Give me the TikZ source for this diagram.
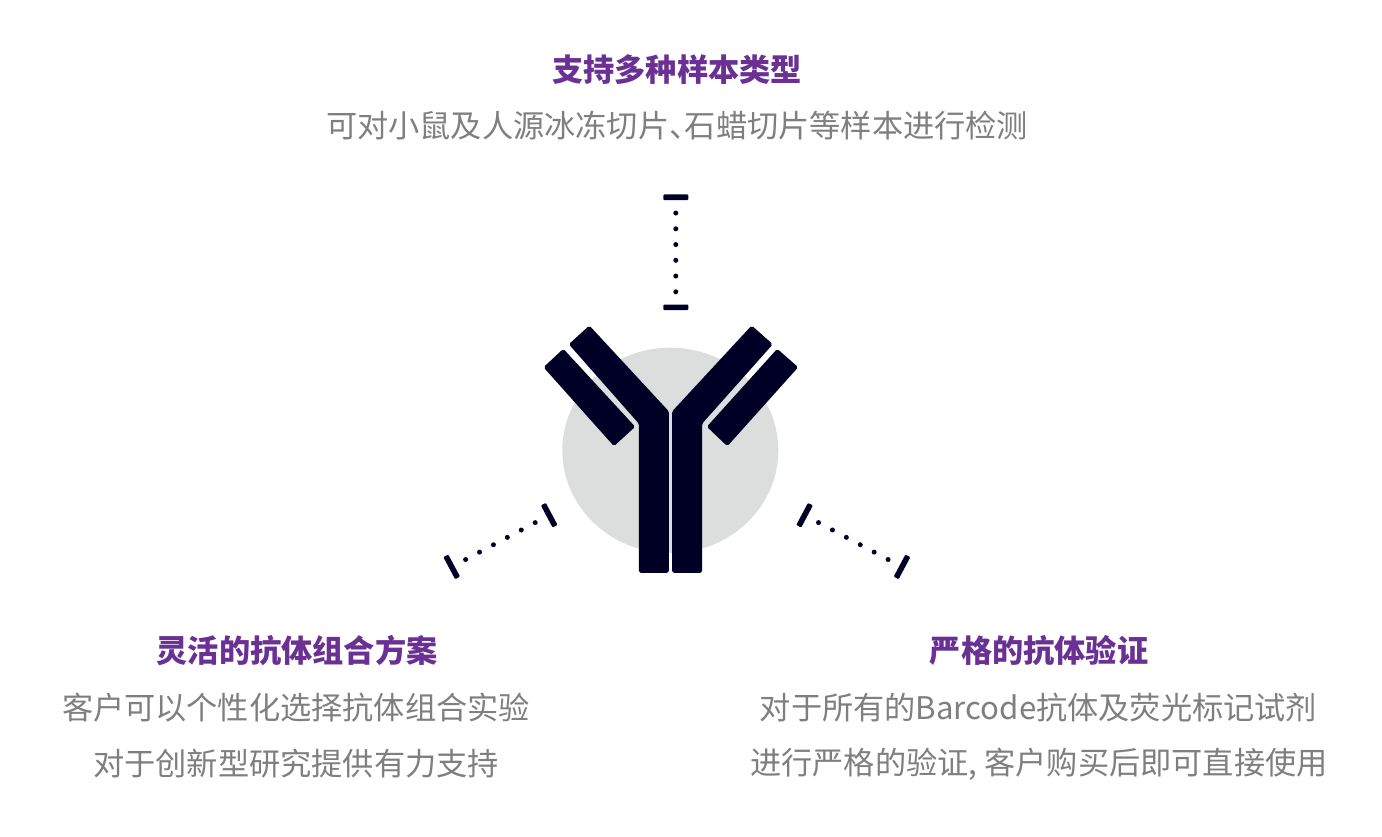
\documentclass[tikz,border=0pt]{standalone}
\usepackage{fontspec}
\setmainfont{Noto Sans CJK SC}
\usepackage{xcolor}
\definecolor{ink}{RGB}{0,0,38}
\definecolor{disc}{RGB}{220,222,221}
\definecolor{headcol}{RGB}{106,48,147}
\definecolor{bodycol}{RGB}{127,127,127}
\usepackage{tikz}
\usetikzlibrary{calc}
\tikzstyle{head} = [
    text=headcol,
    font=\fontsize{31.2}{31.2}\selectfont\bfseries,
    inner sep=0pt,
]
\tikzstyle{body} = [
    text=bodycol,
    font=\fontsize{31.2}{31.2}\selectfont,
    inner sep=0pt,
]
\tikzstyle{tickbar} = [
    fill=ink,
    rectangle,
    rounded corners=1,
    minimum width=25,
    minimum height=5.6,
    inner sep=0pt,
]
\tikzstyle{chain} = [
    ink,
    line width=5,
    line cap=round,
    dash pattern=on 0pt off 15.75pt,
    shorten >=4pt,
]
\tikzstyle{part} = [
    fill=ink,
    draw=ink,
    line width=1.4,
    rounded corners=1.5,
]

\begin{document}
\begin{tikzpicture}[x=1pt,y=-1pt]
    \useasboundingbox (0,0) rectangle (1382,837);

    % disc
    \fill [disc] (670.3,450.4) ellipse (108 and 102.7);

    % antibody
    \draw [part] (563.3,349.8) -- (544.5,367.3) -- (614,445.2) -- (634.2,426.7) -- cycle;
    \draw [part] (589.3,326.5) -- (569.8,344.3) -- (639.5,423.3) -- (639.5,572.2) -- (668.2,572.2) -- (668.2,411.7) -- cycle;
    \draw [part] (751.7,326.5) -- (771.8,344.3) -- (701.5,423.3) -- (701.5,572.2) -- (672.8,572.2) -- (672.8,411.7) -- cycle;
    \draw [part] (777.3,349.8) -- (797.2,367.3) -- (727.3,445.2) -- (707.8,426.7) -- cycle;

    % end bars
    \node (topA) at (675.8,197.3) [tickbar] {};
    \node (topB) at (675.8,307.3) [tickbar] {};
    \node (leftA) at (451.7,566.9) [tickbar,rotate=-62] {};
    \node (leftB) at (549.2,515.2) [tickbar,rotate=-62] {};
    \node (rightA) at (804.6,515.2) [tickbar,rotate=62] {};
    \node (rightB) at (902,566.9) [tickbar,rotate=62] {};

    % dots
    \draw [chain] (topA.center) -- (topB.center);
    \draw [chain] (leftA.center) -- (leftB.center);
    \draw [chain] (rightA.center) -- (rightB.center);

    % texts
    \node (sampleHead) at (677,70) [head] {支持多种样本类型};
    \node (sampleBody) at (677,126) [body] {可对小鼠及人源冰冻切片、\kern-15.6pt 石蜡切片等样本进行检测};
    \node (comboHead) at (297,651) [head] {灵活的抗体组合方案};
    \node (comboBodyA) at (296,708) [body] {客户可以个性化选择抗体组合实验};
    \node (comboBodyB) at (296,764) [body] {对于创新型研究提供有力支持};
    \node (checkHead) at (1039,651) [head] {严格的抗体验证};
    \node (checkBodyA) at (1038.5,708) [body] {对于所有的Barcode抗体及荧光标记试剂};
    \node (checkBodyB) at (1039,764) [body] {进行严格的验证,\kern7pt 客户购买后即可直接使用};
\end{tikzpicture}
\end{document}
